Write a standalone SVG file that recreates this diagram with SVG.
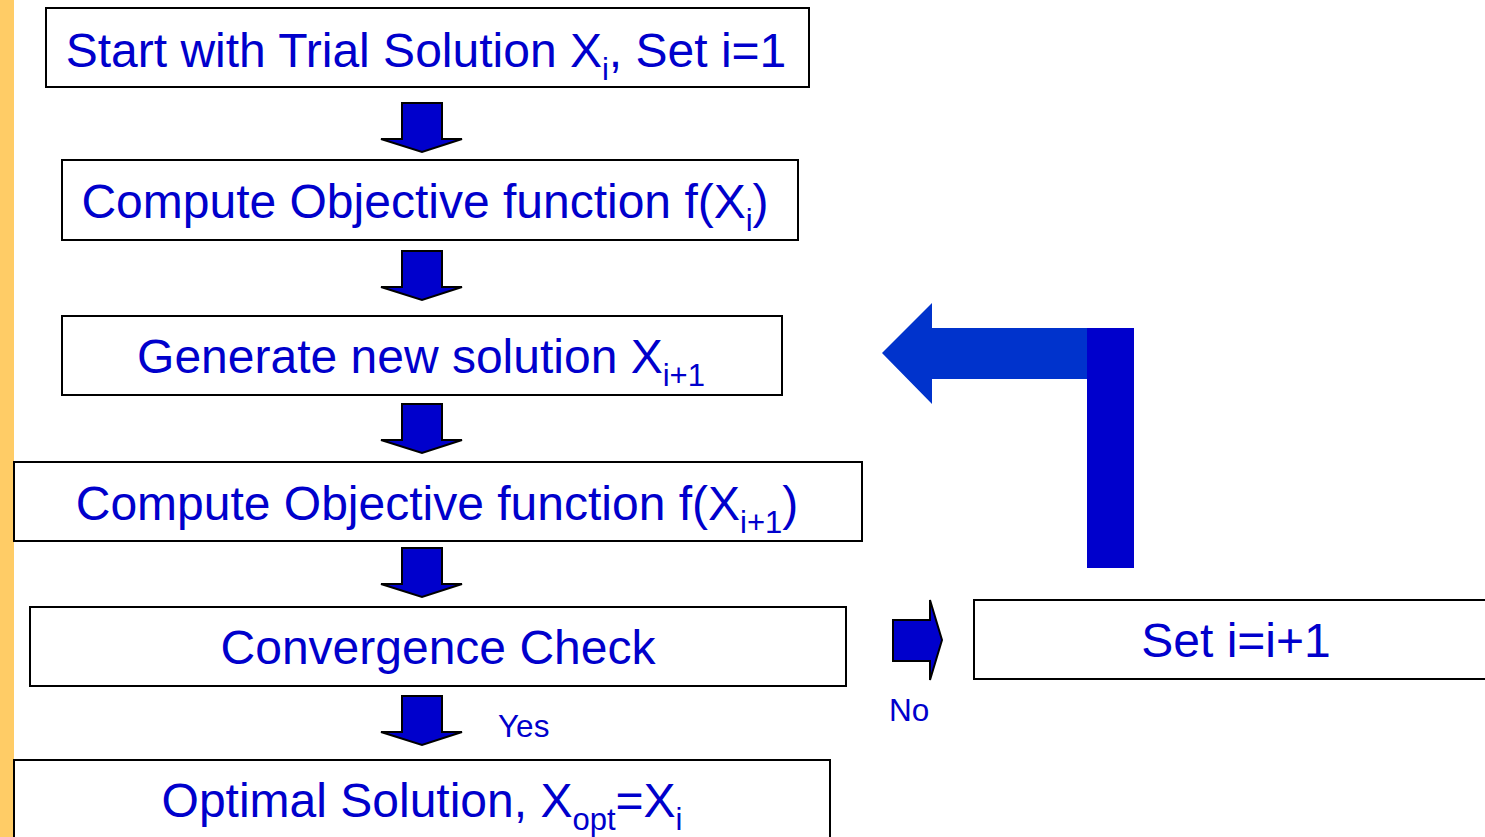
<svg xmlns="http://www.w3.org/2000/svg" width="1485" height="837" viewBox="0 0 1485 837">
<style>
.box{fill:#fff;stroke:#000;stroke-width:2}
.t{font-family:"Liberation Sans",Arial,sans-serif;font-size:48px;fill:#0000CC;text-anchor:middle}
.lbl{font-family:"Liberation Sans",Arial,sans-serif;font-size:31.5px;fill:#0000CC}
.sub{font-size:31px}
.dn{fill:#0000CC;stroke:#000;stroke-width:2;stroke-linejoin:miter}
</style>
<defs>
<polygon id="down" class="dn" points="21,0 61,0 61,36 81,36 41,49 0,36 21,36"/>
</defs>
<rect x="0" y="0" width="14" height="837" fill="#FFCC66"/>
<g id="connectors">
<use href="#down" x="381" y="103"/>
<use href="#down" x="381" y="251"/>
<use href="#down" x="381" y="404"/>
<use href="#down" x="381" y="548"/>
<use href="#down" x="381" y="696"/>
<polygon class="dn" points="893,620 930,620 930,600 942,640 930,680 930,661 893,661"/>
<polygon fill="#0033CC" points="1087,328 932,328 932,303 882,353 932,404 932,379 1087,379"/>
<rect x="1087" y="328" width="47" height="240" fill="#0000CC"/>
<text class="lbl" x="498" y="737">Yes</text>
<text class="lbl" x="889" y="721">No</text>
</g>
<g id="start">
<rect class="box" x="46" y="8" width="763" height="79"/>
<text class="t" x="426" y="67">Start with Trial Solution X<tspan class="sub" dy="13">i</tspan><tspan dy="-13">, Set i=1</tspan></text>
</g>
<g id="compute1">
<rect class="box" x="62" y="160" width="736" height="80"/>
<text class="t" x="425" y="218">Compute Objective function f(X<tspan class="sub" dy="13">i</tspan><tspan dy="-13">)</tspan></text>
</g>
<g id="generate">
<rect class="box" x="62" y="316" width="720" height="79"/>
<text class="t" x="421" y="373">Generate new solution X<tspan class="sub" dy="13">i+1</tspan></text>
</g>
<g id="compute2">
<rect class="box" x="14" y="462" width="848" height="79"/>
<text class="t" x="437" y="520">Compute Objective function f(X<tspan class="sub" dy="13">i+1</tspan><tspan dy="-13">)</tspan></text>
</g>
<g id="convergence">
<rect class="box" x="30" y="607" width="816" height="79"/>
<text class="t" x="438" y="664">Convergence Check</text>
</g>
<g id="optimal">
<rect class="box" x="14" y="760" width="816" height="90"/>
<text class="t" x="422" y="817">Optimal Solution, X<tspan class="sub" dy="13">opt</tspan><tspan dy="-13">=X</tspan><tspan class="sub" dy="13">i</tspan></text>
</g>
<g id="setinc">
<rect class="box" x="974" y="600" width="530" height="79"/>
<text class="t" x="1236" y="657">Set i=i+1</text>
</g>
</svg>
